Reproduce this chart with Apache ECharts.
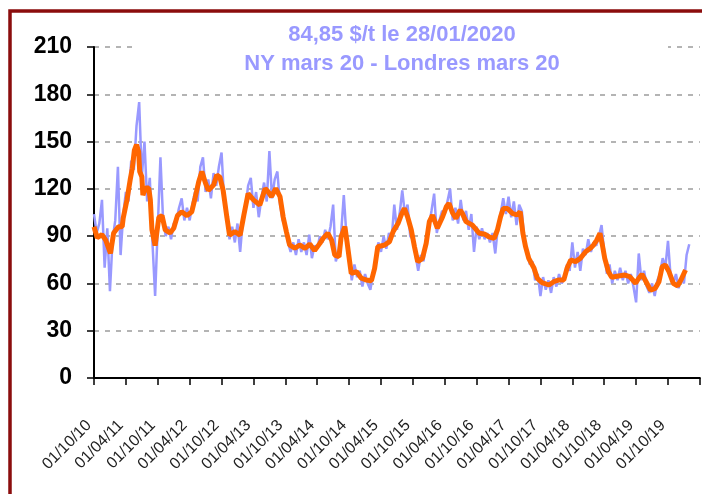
<!DOCTYPE html>
<html>
<head>
<meta charset="utf-8">
<script src="https://cdn.jsdelivr.net/npm/echarts@6/dist/echarts.min.js"></script>
<style>
  html, body { margin: 0; padding: 0; background: #fff; }
  #chart { width: 702px; height: 494px; }
</style>
</head>
<body>
<div id="chart"></div>
<script>
// x is counted in months from 01/10/10 (one tick every 6 months)
const tickLabels = ['01/10/10', '01/04/11', '01/10/11', '01/04/12', '01/10/12', '01/04/13', '01/10/13',
  '01/04/14', '01/10/14', '01/04/15', '01/10/15', '01/04/16', '01/10/16', '01/04/17', '01/10/17',
  '01/04/18', '01/10/18', '01/04/19', '01/10/19'];

// daily quote, read every half month
const rawStep = 0.5;
const rawValues = [
  104, 92, 98, 113, 70, 95, 55, 88, 100, 134, 78, 104,
  118, 112, 138, 132, 160, 175, 128, 150, 112, 127, 86, 52,
  96, 140, 100, 90, 96, 88, 98, 100, 108, 114, 100, 108,
  100, 110, 118, 112, 134, 140, 118, 126, 114, 130, 122, 134,
  143, 112, 104, 88, 96, 86, 98, 80, 100, 108, 122, 127,
  108, 118, 102, 114, 124, 112, 144, 114, 126, 131, 110, 100,
  96, 86, 80, 86, 78, 88, 80, 86, 78, 91, 76, 84,
  82, 90, 86, 94, 88, 96, 110, 74, 80, 92, 116, 90,
  76, 62, 72, 64, 68, 58, 66, 60, 56, 66, 74, 86,
  80, 90, 82, 92, 88, 110, 94, 104, 119, 104, 110, 90,
  88, 78, 68, 78, 74, 88, 96, 106, 117, 92, 100, 106,
  104, 112, 120, 100, 108, 98, 113, 100, 106, 94, 104, 80,
  96, 88, 95, 88, 92, 86, 92, 79, 96, 104, 114, 104,
  115, 102, 112, 97, 110, 106, 86, 80, 72, 74, 62, 66,
  52, 64, 56, 62, 54, 64, 58, 66, 60, 64, 72, 68,
  86, 70, 80, 68, 82, 78, 88, 80, 86, 84, 90, 97,
  80, 66, 72, 60, 68, 62, 70, 62, 68, 60, 66, 58,
  48, 79, 62, 68, 58, 54, 60, 52, 62, 66, 76, 70,
  87, 64, 60, 66, 57, 64, 60, 78, 84.85
];

// moving average (orange)
const avgMonth = [0, 0.6, 1.5, 2.2, 3.1, 3.7, 4.6, 5.3, 5.5, 6.2,
  6.8, 7.2, 7.6, 8.0, 8.4, 8.6, 9.0, 9.2, 9.7, 10.3,
  10.6, 10.9, 11.5, 12.2, 12.8, 13.4, 14.3, 15.0, 15.7, 16.5,
  17.5, 18.4, 19.0, 19.7, 20.3, 20.9, 21.5, 22.5, 23.1, 23.7,
  24.3, 25.0, 25.5, 26.5, 27.5, 28.2, 29.0, 30.0, 31.2, 32.2,
  32.8, 33.4, 34.2, 35.0, 35.6, 36.2, 36.8, 37.8, 38.7, 39.7,
  40.6, 41.5, 42.5, 43.1, 44.0, 44.7, 45.3, 46.1, 46.5, 47.2,
  47.6, 48.1, 48.4, 49.4, 50.3, 51.2, 52.2, 52.8, 53.4, 54.7,
  55.6, 56.3, 57.2, 57.8, 58.4, 59.0, 59.7, 60.3, 60.9, 61.8,
  62.5, 63.1, 63.7, 64.6, 65.6, 66.3, 66.8, 67.5, 68.1, 68.9,
  69.3, 70.0, 71.2, 72.5, 73.4, 74.3, 75.3, 75.9, 76.5, 77.0,
  77.8, 78.7, 79.6, 80.2, 80.7, 81.2, 81.8, 82.8, 83.4, 84.3,
  85.6, 86.5, 87.5, 88.4, 89.0, 89.7, 90.6, 91.5, 92.5, 93.4,
  94.0, 94.6, 95.2, 95.6, 96.1, 96.8, 97.4, 98.7, 99.9, 100.8,
  101.9, 102.5, 103.1, 103.7, 104.7, 105.6, 106.3, 106.9, 107.5, 108.2,
  109.0, 109.8, 110.5, 111.3];
const avgValue = [96, 89, 91, 87.5, 79, 92, 96, 96, 101.5, 113,
  125.6, 133, 144.6, 148, 143.6, 131, 127.7, 116, 120.5, 120.5,
  113, 94, 84, 102, 103, 94, 92, 95, 103, 105.5,
  103, 105.5, 114, 124.5, 131, 124.5, 119, 122.4, 128.8, 127.3,
  119, 102, 90.7, 92.8, 90.7, 103.4, 117, 113, 109.7, 120.3,
  118, 115, 120.3, 115, 102, 92.8, 84.5, 82.3, 84.4, 82.3,
  85, 80.8, 85.4, 88.6, 91.8, 87.5, 78, 77, 89.6, 96,
  86.5, 73.8, 66.4, 67.4, 63.3, 62.2, 61.7, 69.6, 83.3, 84.4,
  86.5, 93, 98, 103.4, 107.6, 102.3, 93.9, 83.3, 73.8, 75.9,
  85.4, 99.2, 103.4, 95, 102.3, 108.7, 110.8, 104.5, 101.3, 106.6,
  104.5, 99.2, 97, 91.8, 91.4, 89.6, 88.6, 93.9, 102.3, 107.6,
  107.6, 104.5, 103.4, 105.5, 91.8, 83.3, 75.9, 69.6, 63.3, 60.5,
  59, 61.1, 62.2, 62.2, 69.6, 74.9, 73.8, 75.9, 80.1, 82.3,
  84.4, 87.5, 91.8, 85.4, 75.9, 67.4, 63.9, 64.7, 65.3, 64.3,
  60.1, 63.3, 65.8, 62.2, 55.8, 56.9, 61.1, 70.6, 71.7, 67.4,
  60.1, 58.4, 62.6, 68.5];

const titleText = '84,85 $/t le 28/01/2020\nNY mars 20 - Londres mars 20';

const chart = echarts.init(document.getElementById('chart'));

chart.setOption({
  animation: false,
  backgroundColor: '#fff',
  graphic: [
    // white box behind the title (hides the top gridline)
    { type: 'rect', shape: { x: 137, y: 22, width: 531, height: 58 }, style: { fill: '#fff' }, z: 1 },
    {
      type: 'text', x: 402, y: 20, z: 2,
      style: {
        text: titleText, align: 'center', verticalAlign: 'top', lineHeight: 29,
        fill: '#9999ff', font: 'bold 22px "Liberation Sans"',
      },
    },
    // dark red frame
    { type: 'rect', shape: { x: 10, y: 11, width: 760, height: 560 }, style: { fill: 'none', stroke: '#8b0d0d', lineWidth: 3.5 }, z: 10 },
  ],
  grid: { left: 94, right: 0, top: 47, bottom: 116 },
  xAxis: {
    type: 'value',
    min: 0,
    max: 114,
    interval: 6,
    axisLine: { lineStyle: { color: '#000', width: 2 } },
    axisTick: { length: 7, lineStyle: { color: '#000', width: 1.5 } },
    axisLabel: {
      rotate: 45,
      margin: 40,
      padding: [0, 7, 0, 0],
      color: '#222',
      fontSize: 16,
      fontFamily: 'Liberation Sans',
      formatter: (v) => tickLabels[Math.round(v / 6)] || '',
    },
    splitLine: { show: false },
  },
  yAxis: {
    type: 'value',
    min: 0,
    max: 210,
    interval: 30,
    axisLine: { show: true, lineStyle: { color: '#000', width: 2 } },
    axisTick: { show: true, length: 7, lineStyle: { color: '#000', width: 1.5 } },
    axisLabel: { margin: 22, color: '#000', fontSize: 23, fontWeight: 'bold', fontFamily: 'Liberation Sans' },
    splitLine: { lineStyle: { color: '#b4b4b4', width: 2, type: [5, 6] } },
  },
  series: [
    {
      type: 'line',
      name: 'cours',
      data: rawValues.map((v, i) => [i * rawStep, v]),
      showSymbol: false,
      lineStyle: { color: '#9999ff', width: 2.5 },
      z: 2,
    },
    {
      type: 'line',
      name: 'moyenne',
      data: avgMonth.map((m, i) => [m, avgValue[i]]),
      showSymbol: false,
      lineStyle: { color: '#ff6600', width: 5 },
      z: 3,
    },
  ],
});
</script>
</body>
</html>
